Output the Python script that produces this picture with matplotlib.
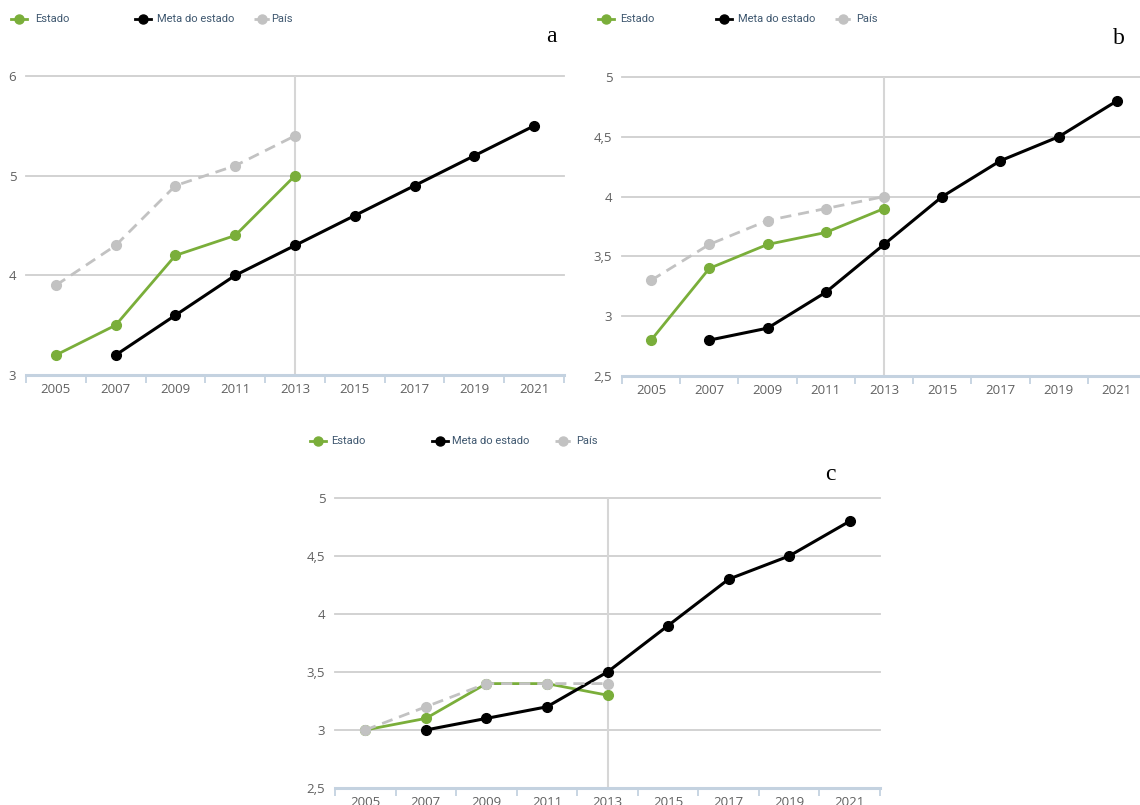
import matplotlib
matplotlib.use("Agg")
import matplotlib.pyplot as plt
from matplotlib.lines import Line2D

# ---- data -------------------------------------------------------------
years = ["2005", "2007", "2009", "2011", "2013", "2015", "2017", "2019", "2021"]

# panel a
a_estado = [3.2, 3.5, 4.2, 4.4, 5.0]
a_meta = [None, 3.2, 3.6, 4.0, 4.3, 4.6, 4.9, 5.2, 5.5]
a_pais = [3.9, 4.3, 4.9, 5.1, 5.4]
a_yticks = [3, 4, 5, 6]

# panel b
b_estado = [2.8, 3.4, 3.6, 3.7, 3.9]
b_meta = [None, 2.8, 2.9, 3.2, 3.6, 4.0, 4.3, 4.5, 4.8]
b_pais = [3.3, 3.6, 3.8, 3.9, 4.0]
b_yticks = [2.5, 3, 3.5, 4, 4.5, 5]

# panel c
c_estado = [3.0, 3.1, 3.4, 3.4, 3.3]
c_meta = [None, 3.0, 3.1, 3.2, 3.5, 3.9, 4.3, 4.5, 4.8]
c_pais = [3.0, 3.2, 3.4, 3.4, 3.4]
c_yticks = [2.5, 3, 3.5, 4, 4.5, 5]

series_names = ["Estado", "Meta do estado", "País"]

# ---- style ------------------------------------------------------------
GREEN = "#7aae3a"
BLACK = "#000000"
GREY = "#c2c2c2"
GRID = "#cfcfcf"
AXIS = "#c4d2e0"
TICKTXT = "#606060"
LEGTXT = "#3e576f"
FONT = "Open Sans"

W, H = 1140, 805
fig = plt.figure(figsize=(W / 100, H / 100), dpi=100)
fig.patch.set_facecolor("white")


def px_axes(left, top, right, bottom):
    return fig.add_axes([left / W, 1 - bottom / H, (right - left) / W, (bottom - top) / H])


def fmt(v):
    return ("%g" % v).replace(".", ",")


def draw_panel(box, estado, meta, pais, yticks):
    ax = px_axes(*box)
    ax.set_facecolor("none")
    n = len(years)
    ax.set_xlim(-0.5, n - 0.5)
    ax.set_ylim(yticks[0], yticks[-1])
    for s in ax.spines.values():
        s.set_visible(False)

    # horizontal grid
    for yv in yticks[1:]:
        ax.axhline(yv, color=GRID, lw=1.3, zorder=0, clip_on=False)
    # x axis line
    ax.axhline(yticks[0], color=AXIS, lw=2.2, zorder=1, clip_on=False)
    # vertical line at 2013
    ax.axvline(years.index("2013"), color="#d6d6d6", lw=1.5, zorder=0.5)

    # ticks
    ax.set_xticks(range(n))
    ax.set_xticklabels(years)
    ax.set_xticks([i - 0.5 for i in range(n + 1)], minor=True)
    ax.tick_params(axis="x", which="major", length=0, pad=6, labelsize=9.5,
                   labelcolor=TICKTXT)
    ax.tick_params(axis="x", which="minor", length=6, width=1.3, color=AXIS,
                   direction="out")
    ax.set_yticks(yticks)
    ax.set_yticklabels([fmt(v) for v in yticks])
    ax.tick_params(axis="y", length=0, pad=7, labelsize=9.5, labelcolor=TICKTXT)
    for lab in ax.get_xticklabels() + ax.get_yticklabels():
        lab.set_fontfamily(FONT)

    xe = list(range(len(estado)))
    ax.plot(xe, estado, color=GREEN, lw=2, marker="o", ms=7, zorder=3,
            clip_on=False)
    xm = [i for i, v in enumerate(meta) if v is not None]
    ym = [v for v in meta if v is not None]
    ax.plot(xm, ym, color=BLACK, lw=2.2, marker="o", ms=7, zorder=4,
            clip_on=False)
    xp = list(range(len(pais)))
    ax.plot(xp, pais, color=GREY, lw=2, ls=(0, (4, 2.5)), marker="o", ms=7,
            zorder=5, clip_on=False)
    return ax


draw_panel((26, 76, 564, 375), a_estado, a_meta, a_pais, a_yticks)
draw_panel((622, 77, 1146, 376), b_estado, b_meta, b_pais, b_yticks)
draw_panel((335, 498, 880, 788), c_estado, c_meta, c_pais, c_yticks)

# ---- overlay for legends and panel letters (pixel coordinates) -------
ov = fig.add_axes([0, 0, 1, 1])
ov.set_xlim(0, W)
ov.set_ylim(H, 0)
ov.axis("off")
ov.patch.set_alpha(0)

legend_styles = [
    dict(color=GREEN, ls="-"),
    dict(color=BLACK, ls="-"),
    dict(color=GREY, ls=(0, (2, 1.5))),
]


def draw_legend(y, xs):
    for (xm, xt), name, st in zip(xs, series_names, legend_styles):
        ov.add_line(Line2D([xm - 8, xm + 8], [y, y], color=st["color"],
                           ls=st["ls"], lw=2))
        ov.plot([xm], [y], marker="o", ms=6.5, color=st["color"])
        ov.text(xt, y, name, fontsize=8, color=LEGTXT, family="Roboto",
                va="center", ha="left")


draw_legend(19, [(19, 35), (143, 157), (262, 271)])
draw_legend(19, [(606, 620), (724, 738), (843, 856)])
draw_legend(441, [(318, 331), (440, 452), (563, 576)])

for x, y, t in [(551, 36, "a"), (1119, 38, "b"), (830, 474, "c")]:
    ov.text(x, y, t, fontsize=17, family="Liberation Serif", ha="center",
            va="center", color="black")

fig.savefig("out.png", dpi=100, facecolor="white")
